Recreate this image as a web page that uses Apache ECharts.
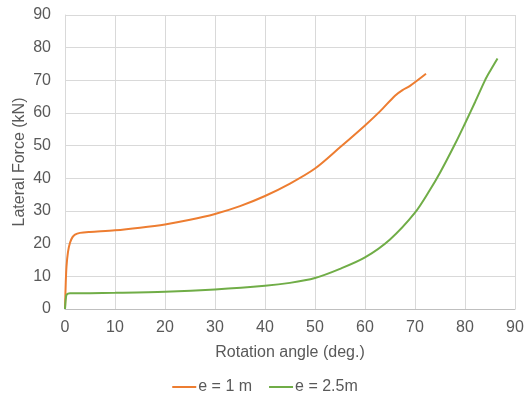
<!DOCTYPE html>
<html><head><meta charset="utf-8">
<script src="https://cdn.jsdelivr.net/npm/echarts@6/dist/echarts.min.js"></script>
<style>html,body{margin:0;padding:0;background:#fff}#c{width:530px;height:406px}</style>
</head><body><div id="c"></div>
<script>
const xTicks = [0,10,20,30,40,50,60,70,80,90];
const yTicks = [0,10,20,30,40,50,60,70,80,90];
const series1Name = 'e = 1 m';
const series1 = [[0,0],[0.15,8],[0.3,13],[0.6,17.5],[1,20.3],[1.5,22],[2,22.8],[3,23.3],[5,23.6],[10,24.1],[15,24.9],[20,25.9],[25,27.3],[30,29.1],[35,31.5],[40,34.6],[45,38.4],[50,43],[55,49.5],[60,56.2],[63,60.5],[66,65.3],[67.5,67],[69,68.3],[72.2,72]];
const series2Name = 'e = 2.5m';
const series2 = [[0,0],[0.15,3],[0.3,4.3],[0.6,4.7],[1,4.8],[5,4.85],[10,4.95],[20,5.3],[30,6],[40,7.1],[45,8],[50,9.5],[55,12.3],[60,15.8],[65,21.3],[70,29.5],[73,36.5],[75,41.7],[78,50.5],[80,56.8],[82,63.3],[84,70],[85,72.8],[86.5,76.7]];

const chart = echarts.init(document.getElementById('c'));
const txt = '#595959';
const ff = 'Liberation Sans, Arial';
chart.setOption({
  animation:false,
  grid:{left:65,right:15,top:15,bottom:97,containLabel:false},
  legend:{bottom:6,left:'center',itemWidth:24,itemHeight:2,itemGap:17,icon:'rect',
    textStyle:{color:txt,fontSize:16,fontFamily:ff,padding:[0,0,0,-3]},
    data:[series1Name,series2Name]},
  xAxis:{type:'value',min:0,max:90,interval:10,
    name:'Rotation angle (deg.)',nameLocation:'middle',nameGap:36,nameMoveOverlap:false,
    nameTextStyle:{color:txt,fontSize:16,fontFamily:ff},
    axisLine:{lineStyle:{color:'#bfbfbf'}},axisTick:{show:false},
    axisLabel:{color:txt,fontSize:16,fontFamily:ff,margin:11},
    splitLine:{show:true,lineStyle:{color:'#d9d9d9'}}},
  yAxis:{type:'value',min:0,max:90,interval:10,
    name:'Lateral Force (kN)',nameLocation:'middle',nameGap:37,nameMoveOverlap:false,
    nameTextStyle:{color:txt,fontSize:16,fontFamily:ff},
    axisLine:{show:true,lineStyle:{color:'#d9d9d9'}},axisTick:{show:false},
    axisLabel:{color:txt,fontSize:16,fontFamily:ff,margin:14},
    splitLine:{show:true,lineStyle:{color:'#d9d9d9'}}},
  series:[
    {name:series1Name,type:'line',data:series1,showSymbol:false,smooth:0.3,
     lineStyle:{color:'#ED7D31',width:2},itemStyle:{color:'#ED7D31'}},
    {name:series2Name,type:'line',data:series2,showSymbol:false,smooth:0.3,
     lineStyle:{color:'#70AD47',width:2},itemStyle:{color:'#70AD47'}}
  ]
});
</script></body></html>
